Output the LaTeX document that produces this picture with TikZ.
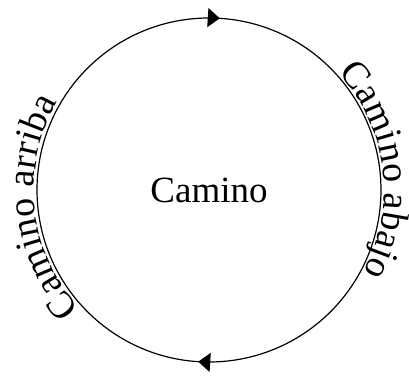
\documentclass[tikz,border=0pt]{standalone}
\usepackage{fontspec}
\setmainfont{Liberation Serif}
\usetikzlibrary{decorations.text,decorations.markings,arrows.meta}
\newcommand\sidefnt{\fontsize{38}{44}\selectfont}
\newcommand\midfnt{\fontsize{37}{44}\selectfont}
\begin{document}
\begin{tikzpicture}[x=1pt,y=1pt,
  ringline/.style={line width=1.2pt},
  ringtip/.tip={Triangle[length=12pt,width=19pt]},
  ringarrows/.style={postaction={decorate},decoration={markings,
      mark=at position 0.26 with {\arrow{ringtip}},
      mark=at position 0.76 with {\arrow{ringtip}}}},
  pathtext/.style={decorate,decoration={text along path,text align=center,raise=3pt,text={|\sidefnt|#1}}}]
\useasboundingbox (0,0) rectangle (409,379);
\coordinate (o) at (209,189);
\draw[ringline,ringarrows] (o) ++(180:172) arc[start angle=180,end angle=-180,radius=172];
\node[font=\midfnt] (lbl) at (209,189) {Camino};
\path[pathtext={Camino arriba}] (o) ++(231:172) arc[start angle=231,end angle=141,radius=172];
\path[pathtext={Camino abajo}] (o) ++(52:172) arc[start angle=52,end angle=-38,radius=172];
\end{tikzpicture}
\end{document}
